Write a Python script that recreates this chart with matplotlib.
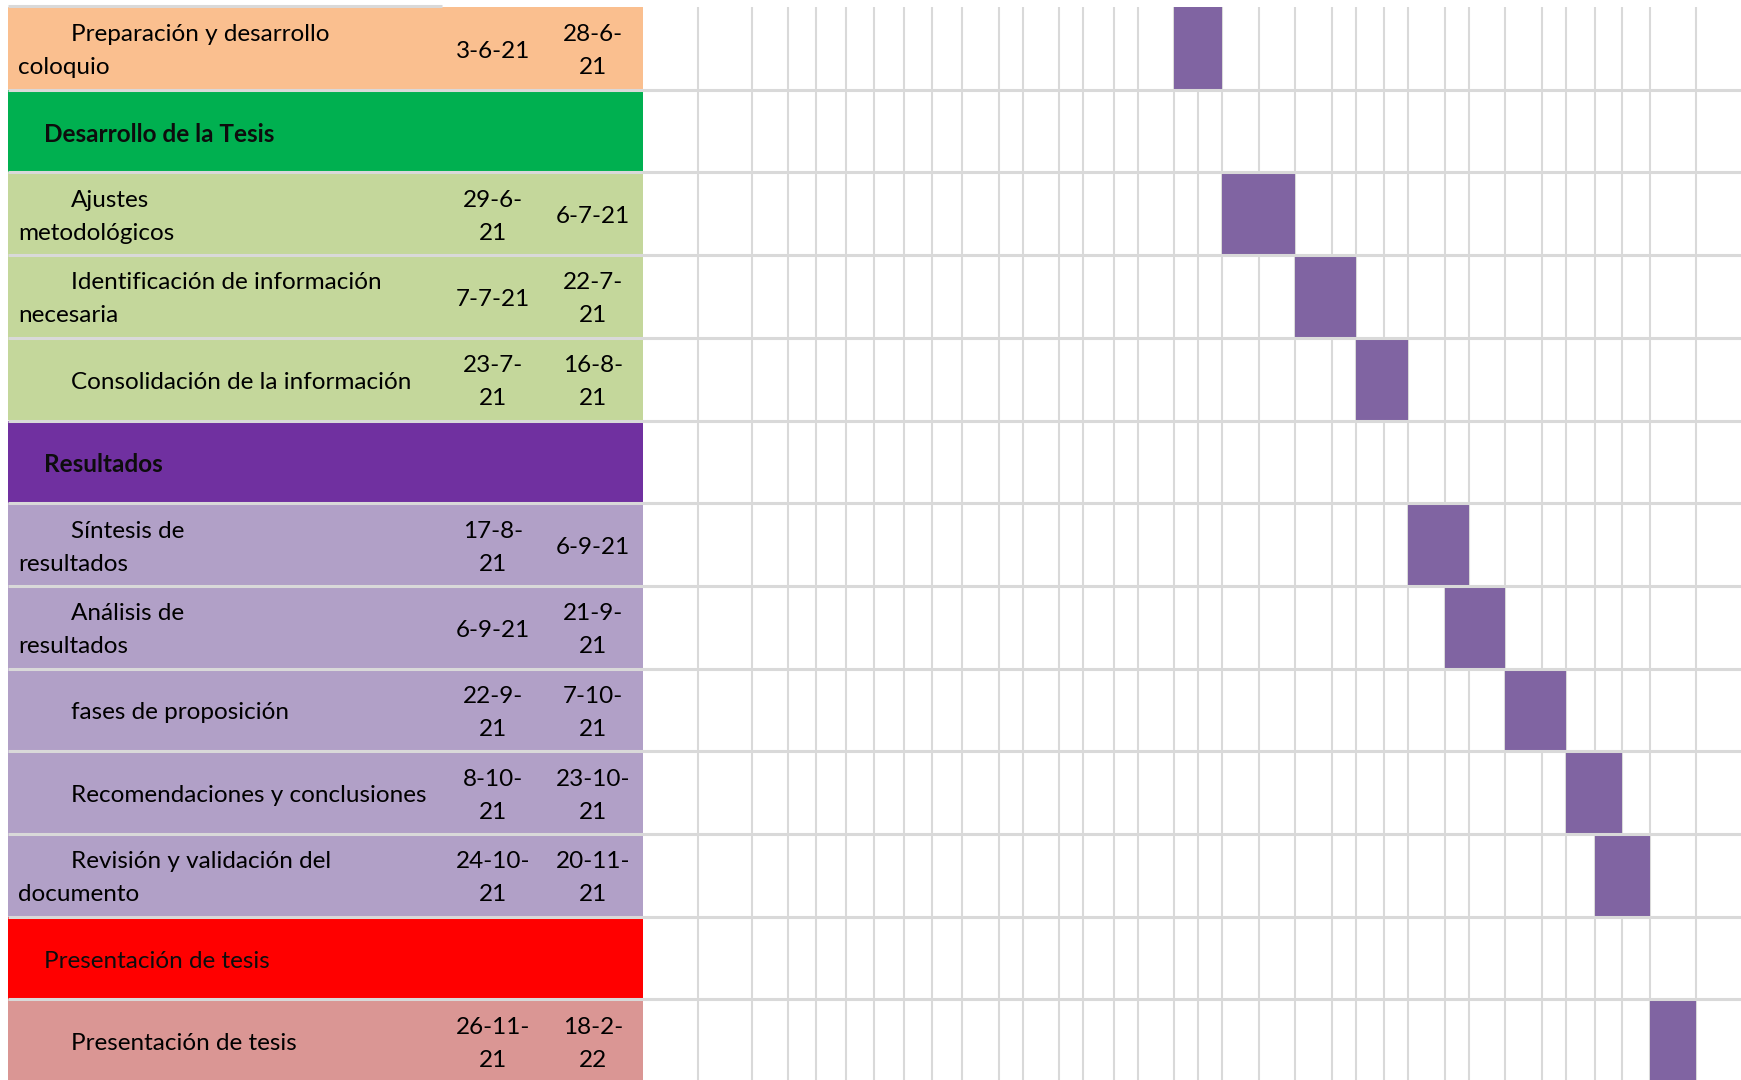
import matplotlib.pyplot as plt
from matplotlib.patches import Rectangle

plt.rcParams['font.family'] = ['Lato', 'DejaVu Sans']

# rows of the schedule (headers have no dates and no bar)
names = [
    "Preparación y desarrollo\ncoloquio",
    "Desarrollo de la Tesis",
    "Ajustes\nmetodológicos",
    "Identificación de información\nnecesaria",
    "Consolidación de la información",
    "Resultados",
    "Síntesis de\nresultados",
    "Análisis de\nresultados",
    "fases de proposición",
    "Recomendaciones y conclusiones",
    "Revisión y validación del\ndocumento",
    "Presentación de tesis",
    "Presentación de tesis",
]
kinds = ["task", "header", "task", "task", "task", "header", "task", "task",
         "task", "task", "task", "header", "task"]
starts = ["3-6-21", None, "29-6-21", "7-7-21", "23-7-21", None, "17-8-21",
          "6-9-21", "22-9-21", "8-10-21", "24-10-21", None, "26-11-21"]
ends = ["28-6-21", None, "6-7-21", "22-7-21", "16-8-21", None, "6-9-21",
        "21-9-21", "7-10-21", "23-10-21", "20-11-21", None, "18-2-22"]
# bar extent as timeline column indices (from, to)
bar_from = [15, None, 17, 19, 21, None, 23, 24, 26, 28, 29, None, 31]
bar_to = [17, None, 19, 21, 23, None, 25, 26, 28, 30, 31, None, 32]

row_colors = ["#FABF8F", "#00B050", "#C4D79B", "#C4D79B", "#C4D79B", "#7030A0",
              "#B1A0C7", "#B1A0C7", "#B1A0C7", "#B1A0C7", "#B1A0C7", "#FF0000",
              "#DA9694"]

# layout (pixels)
W, H = 1741, 1080
TOP, ROW_H = 7, 82.7
TL, TR = 8, 643
col_edges = [698, 752, 788, 816, 846, 874, 904, 932, 962, 999, 1023, 1059,
             1083, 1114, 1138, 1174, 1198, 1222, 1259, 1295, 1332, 1356, 1384,
             1408, 1445, 1469, 1505, 1542, 1566, 1595, 1622, 1650, 1696]
GRID = "#D9D9D9"
BAR = "#8064A2"
FS = 17.5
LINE = 33
DY = 3

fig = plt.figure(figsize=(W / 100, H / 100), dpi=100)
ax = fig.add_axes([0, 0, 1, 1])
ax.set_xlim(0, W)
ax.set_ylim(H, 0)
ax.axis("off")


def wrap_date(s):
    if len(s) <= 6:
        return [s]
    k = s.rfind("-")
    return [s[:k + 1], s[k + 1:]]


def lines_at(lines, cy):
    n = len(lines)
    return [cy + DY + (j - (n - 1) / 2) * LINE for j in range(n)]


ax.vlines(col_edges, TOP, H, color=GRID, lw=1.5, zorder=1)

for i, name in enumerate(names):
    y0 = TOP + i * ROW_H
    cy = y0 + ROW_H / 2
    ax.add_patch(Rectangle((TL, y0), TR - TL, ROW_H, fc=row_colors[i], lw=0, zorder=1))

    if bar_from[i] is not None:
        x0 = col_edges[bar_from[i]]
        x1 = col_edges[bar_to[i]]
        ax.add_patch(Rectangle((x0, y0), x1 - x0, ROW_H, fc=BAR, lw=0, zorder=2))

    if kinds[i] == "header":
        bold = "bold" if name != "Presentación de tesis" else "normal"
        ax.text(44, cy + DY, name, fontsize=FS, fontweight=bold, color="#0D0D0D",
                va="center", ha="left", zorder=4)
        continue

    parts = name.split("\n")
    for j, (txt, ty) in enumerate(zip(parts, lines_at(parts, cy))):
        ax.text(71 if j == 0 else 18, ty, txt, fontsize=FS, color="black",
                va="center", ha="left", zorder=4)
    for cx, d in ((493, starts[i]), (593, ends[i])):
        dl = wrap_date(d)
        for txt, ty in zip(dl, lines_at(dl, cy)):
            ax.text(cx, ty, txt, fontsize=FS, color="black",
                    va="center", ha="center", zorder=4)

for i in range(1, len(names) + 1):
    ax.hlines(TOP + i * ROW_H, TL, W, color=GRID, lw=2.2, zorder=3)
ax.hlines(TOP - 1, TL, 442, color=GRID, lw=2.2, zorder=3)

fig.savefig("out.png", dpi=100)
